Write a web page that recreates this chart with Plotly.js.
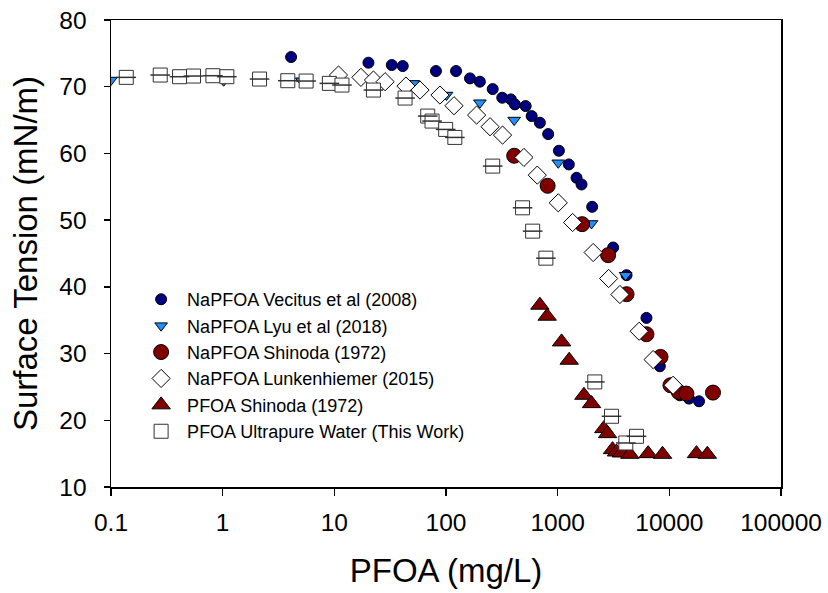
<!DOCTYPE html>
<html>
<head>
<meta charset="utf-8">
<script src="https://cdn.plot.ly/plotly-3.0.1.min.js"></script>
<style>
  body { margin: 0; background: #fff; }
  #chart { width: 828px; height: 593px; }
</style>
</head>
<body>
<div id="chart"></div>
<script>
// values (mg/L, mN/m)
var vecitusX = [4.1, 20.2, 32.7, 41, 81.3, 123, 164, 201, 262, 319, 381, 414, 517, 585, 693, 822, 1026, 1259, 1476, 1636, 2037, 3140, 4140, 6240, 8225, 12400, 15000, 18450];
var vecitusY = [74.45, 73.6, 73.25, 73.1, 72.35, 72.35, 71.25, 70.75, 69.65, 68.35, 68.1, 67.35, 67.1, 65.6, 64.6, 62.9, 60.4, 58.35, 56.35, 55.35, 52, 45.9, 41.75, 35.35, 28.1, 23.75, 23.25, 22.85];

var lyuX = [0.1, 1.02, 5.1, 10.3, 51, 101, 201, 408, 1012, 2010, 4055];
var lyuY = [71, 70.9, 70.9, 70.9, 70.5, 68.75, 67.6, 65, 58.6, 49.5, 41.75];

var shinodaNaX = [408, 813, 1656, 2830, 4140, 6240, 8340, 10230, 12140, 14220, 24600];
var shinodaNaY = [59.65, 55.15, 49.4, 44.75, 38.9, 32.9, 29.5, 25.25, 24.25, 24, 24.15];

var lunkX = [10.9, 17.3, 22.4, 28.5, 43.8, 58.5, 88.3, 118, 188, 248, 321, 499, 657, 1012, 1361, 2080, 2860, 3610, 5370, 7160, 10800];
var lunkY = [71.75, 71.4, 71.0, 70.75, 70.1, 69.5, 68.75, 67.15, 65.75, 64, 62.75, 59.4, 56.75, 52.6, 49.65, 45.15, 41.25, 38.85, 33.35, 29.1, 25.25];

var shinodaAcidX = [693, 805, 1084, 1268, 1718, 2010, 2590, 2800, 3100, 3365, 3730, 4430, 6460, 8690, 17500, 21900];
var shinodaAcidY = [37.25, 35.6, 31.75, 29, 23.75, 22.5, 18.75, 18, 15.6, 15.25, 15.1, 14.9, 15.0, 14.9, 15.0, 14.9];

var pureX = [0.137, 0.276, 0.411, 0.548, 0.818, 1.09, 2.14, 3.83, 5.59, 9.03, 11.7, 22.4, 43, 68.6, 75, 99.3, 120, 262, 485, 597, 784, 2150, 3035, 4075, 5080];
var pureY = [71.4, 71.75, 71.5, 71.6, 71.65, 71.5, 71.15, 70.9, 70.85, 70.5, 70.25, 69.5, 68.3, 65.6, 64.85, 63.6, 62.4, 58.1, 51.85, 48.35, 44.3, 25.75, 20.6, 16.6, 17.6];

var xTicks = [0.1, 1, 10, 100, 1000, 10000, 100000];
var xTickText = ['0.1', '1', '10', '100', '1000', '10000', '100000'];

var FONT = 'Liberation Sans, Arial, sans-serif';

function pts(name, x, y, symbol, size, fill, edge) {
    return {
        name: name,
        x: x,
        y: y,
        type: 'scatter',
        mode: 'markers',
        marker: {
            symbol: symbol,
            size: size,
            color: fill,
            line: { color: edge, width: 1 }
        }
    };
}

var traces = [
    pts('NaPFOA Vecitus et al (2008)', vecitusX, vecitusY, 'circle', 11, '#000080', '#000000'),
    pts('NaPFOA Lyu et al (2018)', lyuX, lyuY, 'triangle-down', 11, '#1E90FF', '#000000'),
    pts('NaPFOA Shinoda (1972)', shinodaNaX, shinodaNaY, 'circle', 15, '#800000', '#000000'),
    pts('NaPFOA Lunkenhiemer (2015)', lunkX, lunkY, 'diamond', 14, '#ffffff', '#000000'),
    pts('PFOA Shinoda (1972)', shinodaAcidX, shinodaAcidY, 'triangle-up', 16, '#800000', '#000000'),
    pts('PFOA Ultrapure Water (This Work)', pureX, pureY, 'square', 14, '#ffffff', '#333333')
];
// centre stroke through each square
traces.push({
    x: pureX,
    y: pureY,
    type: 'scatter',
    mode: 'markers',
    showlegend: false,
    hoverinfo: 'skip',
    marker: { symbol: 'line-ew', size: 14, color: '#333333', line: { color: '#333333', width: 1.5 } }
});

var layout = {
    width: 828,
    height: 593,
    margin: { l: 111, r: 47, t: 20, b: 106 },
    paper_bgcolor: '#ffffff',
    plot_bgcolor: '#ffffff',
    font: { family: FONT, color: '#000000' },
    showlegend: true,
    legend: {
        x: 0.036,
        y: 0.441,
        xanchor: 'left',
        yanchor: 'top',
        bgcolor: 'rgba(0,0,0,0)',
        borderwidth: 0,
        itemwidth: 42,
        font: { family: FONT, size: 18, color: '#000000' }
    },
    xaxis: {
        type: 'log',
        range: [-1, 5],
        tickvals: xTicks,
        ticktext: xTickText,
        ticks: 'outside',
        ticklen: 7,
        tickwidth: 1.5,
        tickcolor: '#000000',
        ticklabelstandoff: 6,
        showline: true,
        linecolor: '#000000',
        linewidth: 1.5,
        mirror: true,
        showgrid: false,
        zeroline: false,
        tickfont: { family: FONT, size: 24.5, color: '#000000' },
        title: { text: 'PFOA (mg/L)', font: { family: FONT, size: 33, color: '#000000' }, standoff: 24 }
    },
    yaxis: {
        range: [10, 80],
        dtick: 10,
        ticks: 'outside',
        ticklen: 6,
        tickwidth: 1.5,
        tickcolor: '#000000',
        ticklabelstandoff: 12,
        showline: true,
        linecolor: '#000000',
        linewidth: 1.5,
        mirror: true,
        showgrid: false,
        zeroline: false,
        tickfont: { family: FONT, size: 24.5, color: '#000000' },
        title: { text: 'Surface Tension (mN/m)', font: { family: FONT, size: 33, color: '#000000' }, standoff: 12 }
    }
};

Plotly.newPlot('chart', traces, layout, { displayModeBar: false, staticPlot: true });
</script>
</body>
</html>
